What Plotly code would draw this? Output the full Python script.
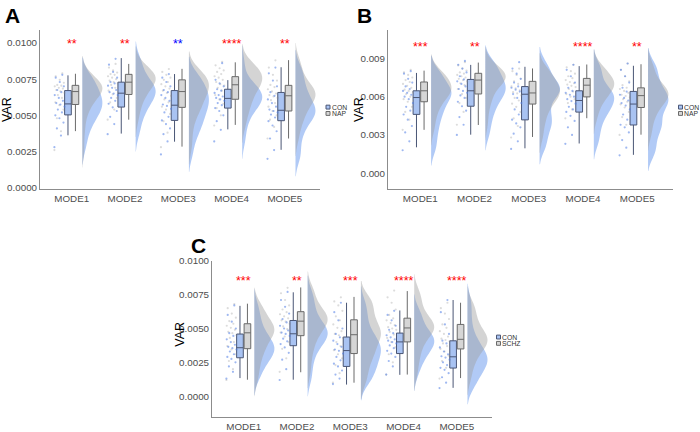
import numpy as np
import plotly.graph_objects as go

MODES = ["MODE1", "MODE2", "MODE3", "MODE4", "MODE5"]
UNIT = 1e-3  # all values below are written in units of 1e-3

# ---------------- Panel A : CON vs NAP ----------------
A_CON = [
    [2.8, 3.6, 4.1, 4.5, 4.8, 5.0, 5.2, 5.4, 5.6, 5.75, 5.85, 6.0, 6.2, 6.4, 6.6, 6.75, 7.0, 7.3, 7.6, 7.8],
    [3.7, 4.4, 4.9, 5.3, 5.55, 5.8, 6.0, 6.2, 6.4, 6.5, 6.6, 6.75, 6.9, 7.05, 7.2, 7.3, 7.6, 8.0, 8.5, 8.9],
    [2.3, 3.2, 3.7, 4.1, 4.4, 4.65, 4.9, 5.2, 5.45, 5.65, 5.75, 6.0, 6.2, 6.4, 6.6, 6.75, 7.0, 7.3, 7.6, 7.85],
    [3.2, 4.0, 4.6, 5.0, 5.3, 5.5, 5.7, 5.85, 6.0, 6.1, 6.2, 6.3, 6.4, 6.55, 6.7, 6.8, 7.0, 7.2, 7.45, 8.6],
    [2.0, 2.6, 3.4, 3.9, 4.3, 4.6, 4.85, 5.05, 5.2, 5.3, 5.4, 5.6, 5.85, 6.1, 6.35, 6.6, 7.0, 7.4, 7.9, 8.3],
]
A_NAP = [
    [2.6, 3.9, 4.8, 5.4, 5.7, 5.9, 6.2, 6.4, 6.55, 6.65, 6.75, 6.85, 6.9, 7.0, 7.05, 7.1, 7.25, 7.45, 7.7, 7.9],
    [4.7, 5.4, 5.9, 6.2, 6.45, 6.7, 6.9, 7.1, 7.2, 7.3, 7.4, 7.5, 7.6, 7.7, 7.8, 7.85, 7.95, 8.1, 8.3, 8.55],
    [2.8, 3.8, 4.6, 5.1, 5.4, 5.6, 5.9, 6.1, 6.35, 6.55, 6.7, 6.85, 7.0, 7.15, 7.3, 7.45, 7.6, 7.8, 8.0, 8.2],
    [4.3, 5.0, 5.5, 5.8, 6.1, 6.4, 6.7, 6.9, 7.05, 7.15, 7.3, 7.45, 7.6, 7.7, 7.85, 8.0, 8.1, 8.25, 8.45, 8.7],
    [3.4, 4.2, 4.7, 5.0, 5.3, 5.6, 5.85, 6.05, 6.2, 6.3, 6.4, 6.5, 6.65, 6.8, 6.95, 7.1, 7.4, 7.8, 8.3, 8.8],
]
# box stats per mode: (lower whisker, q1, median, q3, upper whisker)
A_CON_BOX = [(3.62, 5.03, 5.79, 6.71, 7.76), (3.74, 5.57, 6.53, 7.29, 8.95), (3.18, 4.65, 5.70, 6.71, 7.85),
             (4.03, 5.50, 6.17, 6.80, 7.43), (2.62, 4.63, 5.35, 6.58, 8.32)]
A_NAP_BOX = [(3.91, 5.75, 6.64, 7.07, 7.87), (4.70, 6.44, 7.29, 7.83, 8.55), (2.84, 5.55, 6.64, 7.45, 8.21),
             (4.34, 6.11, 7.11, 7.67, 8.66), (3.40, 5.30, 6.35, 7.07, 8.81)]
A_STARS = ["**", "**", "**", "****", "**"]
A_STAR_COLORS = ["#ff0000", "#ff0000", "#0000ff", "#ff0000", "#ff0000"]

# ---------------- Panel B : CON vs NAP ----------------
B_CON = [
    [1.8, 2.5, 3.2, 3.7, 4.2, 4.6, 4.9, 5.2, 5.5, 5.8, 6.0, 6.15, 6.3, 6.45, 6.6, 6.8, 7.1, 7.4, 7.8, 8.0],
    [3.0, 3.8, 4.4, 4.9, 5.25, 5.6, 5.9, 6.1, 6.3, 6.45, 6.6, 6.8, 7.0, 7.2, 7.35, 7.6, 7.9, 8.2, 8.5, 8.8],
    [1.9, 2.5, 3.1, 3.6, 3.9, 4.2, 4.6, 5.0, 5.5, 5.9, 6.2, 6.4, 6.55, 6.7, 6.8, 7.1, 7.4, 7.8, 8.2, 8.7],
    [2.3, 3.0, 3.6, 4.1, 4.5, 4.8, 5.0, 5.2, 5.45, 5.65, 5.8, 6.0, 6.15, 6.3, 6.45, 6.7, 7.1, 7.6, 8.1, 8.5],
    [1.4, 2.0, 2.6, 3.2, 3.6, 3.8, 4.2, 4.6, 5.0, 5.3, 5.5, 5.7, 5.9, 6.15, 6.4, 6.7, 7.1, 7.6, 8.1, 8.6],
]
B_NAP = [
    [3.4, 4.2, 4.8, 5.2, 5.6, 5.8, 6.0, 6.2, 6.35, 6.45, 6.55, 6.7, 6.85, 7.0, 7.15, 7.3, 7.5, 7.7, 7.9, 8.1],
    [3.8, 4.8, 5.5, 5.9, 6.2, 6.6, 6.9, 7.05, 7.2, 7.3, 7.4, 7.5, 7.6, 7.7, 7.8, 7.9, 8.05, 8.2, 8.45, 8.7],
    [2.8, 3.7, 4.3, 4.8, 5.2, 5.45, 5.7, 5.9, 6.1, 6.25, 6.35, 6.5, 6.65, 6.8, 7.0, 7.2, 7.4, 7.7, 8.0, 8.2],
    [4.3, 5.0, 5.5, 5.8, 6.0, 6.2, 6.4, 6.6, 6.75, 6.85, 6.95, 7.05, 7.15, 7.3, 7.45, 7.6, 7.8, 8.0, 8.3, 8.5],
    [3.0, 3.8, 4.4, 4.8, 5.15, 5.4, 5.6, 5.8, 5.95, 6.05, 6.15, 6.3, 6.45, 6.6, 6.7, 6.9, 7.2, 7.6, 8.1, 8.6],
]
B_CON_BOX = [(2.03, 4.61, 5.93, 6.46, 7.86), (3.02, 5.25, 6.46, 7.35, 8.49), (1.95, 4.18, 6.19, 6.79, 8.34),
             (2.33, 4.79, 5.70, 6.46, 8.39), (1.44, 3.78, 5.42, 6.41, 8.42)]
B_NAP_BOX = [(3.40, 5.60, 6.46, 7.15, 8.04), (3.78, 6.21, 7.30, 7.83, 8.67), (2.84, 5.42, 6.29, 7.20, 8.21),
             (4.31, 5.98, 6.90, 7.43, 8.52), (3.02, 5.15, 6.08, 6.69, 8.54)]
B_STARS = ["***", "**", "", "****", "**"]
B_STAR_COLORS = ["#ff0000"] * 5

# ---------------- Panel C : CON vs SCHZ ----------------
C_CON = [
    [1.3, 1.8, 2.2, 2.5, 2.75, 2.9, 3.1, 3.3, 3.45, 3.55, 3.65, 3.8, 4.0, 4.2, 4.45, 4.65, 5.0, 5.5, 6.0, 6.7],
    [1.2, 2.0, 2.7, 3.2, 3.6, 3.85, 4.05, 4.25, 4.45, 4.6, 4.7, 4.85, 5.0, 5.2, 5.45, 5.7, 6.1, 6.6, 7.1, 7.7],
    [0.9, 1.3, 1.6, 1.9, 2.2, 2.4, 2.65, 2.9, 3.15, 3.35, 3.45, 3.65, 3.85, 4.1, 4.35, 4.6, 5.0, 5.6, 6.2, 6.9],
    [1.6, 2.2, 2.6, 2.9, 3.15, 3.35, 3.55, 3.75, 3.9, 4.0, 4.1, 4.2, 4.35, 4.5, 4.65, 4.9, 5.2, 5.6, 6.0, 6.3],
    [0.6, 1.0, 1.4, 1.7, 1.95, 2.1, 2.3, 2.5, 2.7, 2.85, 2.95, 3.1, 3.3, 3.6, 3.9, 4.1, 4.6, 5.3, 6.2, 7.1],
]
C_SCHZ = [
    [1.2, 2.0, 2.6, 3.1, 3.45, 3.7, 4.0, 4.3, 4.5, 4.65, 4.75, 4.9, 5.05, 5.2, 5.35, 5.55, 5.8, 6.1, 6.5, 6.8],
    [1.8, 2.8, 3.5, 4.0, 4.4, 4.7, 4.95, 5.15, 5.35, 5.5, 5.6, 5.75, 5.9, 6.05, 6.2, 6.4, 6.7, 7.1, 7.6, 8.0],
    [1.0, 1.7, 2.3, 2.8, 3.1, 3.4, 3.7, 4.0, 4.3, 4.5, 4.6, 4.8, 5.05, 5.3, 5.6, 5.9, 6.3, 6.7, 7.0, 7.3],
    [1.6, 2.5, 3.1, 3.6, 4.0, 4.3, 4.55, 4.75, 4.9, 5.0, 5.1, 5.25, 5.4, 5.6, 5.75, 6.0, 6.4, 6.9, 7.3, 7.8],
    [1.3, 2.1, 2.6, 3.0, 3.3, 3.5, 3.7, 3.9, 4.05, 4.15, 4.25, 4.4, 4.6, 4.8, 5.05, 5.3, 5.7, 6.1, 6.5, 6.9],
]
C_CON_BOX = [(1.34, 2.84, 3.58, 4.59, 6.67), (1.22, 3.73, 4.61, 5.59, 7.67), (0.86, 2.20, 3.37, 4.37, 6.90),
              (1.58, 3.15, 4.01, 4.66, 6.33), (0.62, 2.08, 2.91, 4.09, 7.10)]
C_SCHZ_BOX = [(1.22, 3.51, 4.68, 5.35, 6.83), (1.77, 4.47, 5.54, 6.24, 8.03), (1.00, 3.15, 4.54, 5.64, 7.33),
               (1.60, 4.01, 5.04, 5.76, 7.76), (1.34, 3.49, 4.20, 5.30, 6.90)]
C_STARS = ["***", "**", "***", "****", "****"]
C_STAR_COLORS = ["#ff0000"] * 5

# ---------------- styling ----------------
W, H = 700, 432
NARROW = "Liberation Sans Narrow, Liberation Sans, Arial, sans-serif"
SANS = "Liberation Sans, Arial, sans-serif"
BLUE_V = "rgba(100,149,237,0.50)"
GRAY_V = "rgba(160,160,160,0.45)"
BLUE_BOX = "#a9c3f2"
GRAY_BOX = "#d6d6d6"
BLUE_LINE = "#4a5675"
GRAY_LINE = "#6a6a6a"
BLUE_PT = "rgba(80,125,230,0.55)"
GRAY_PT = "rgba(140,140,140,0.30)"
AXIS_COL = "#8c8c8c"
TICK_COL = "#4d4d4d"

V_OFF, BOX_OFF, BOX_W, PT_OFF, PT_SPREAD, V_WIDTH = 0.2, 0.07, 0.125, -0.225, 0.2, 0.75
KDE_BW = 0.0006


def px_x(p):
    return p / W


def px_y(p):
    return 1 - p / H


fig = go.Figure()


def add_panel(k, con, grp, con_box, grp_box):
    xa = "x" if k == 1 else f"x{k}"
    ya = "y" if k == 1 else f"y{k}"
    pos = np.arange(1, len(MODES) + 1)
    sg = f"panel{k}"
    # half violins
    for samples, col in [(con, BLUE_V), (grp, GRAY_V)]:
        for i, s in enumerate(samples):
            vals = np.array(s) * UNIT
            fig.add_trace(go.Violin(
                x=np.full(len(vals), pos[i] + V_OFF), y=vals, side="positive", width=V_WIDTH,
                bandwidth=KDE_BW, scalegroup=sg, scalemode="width", spanmode="soft", points=False,
                fillcolor=col, line=dict(width=0, color="rgba(0,0,0,0)"),
                box_visible=False, meanline_visible=False, showlegend=False, hoverinfo="skip",
                xaxis=xa, yaxis=ya))
    # jittered raw points
    for samples, col in [(grp, GRAY_PT), (con, BLUE_PT)]:
        xs, ys = [], []
        for i, s in enumerate(samples):
            n = len(s)
            jit = ((np.arange(n) * 0.6180339887) % 1.0 - 0.5) * PT_SPREAD
            xs.extend(pos[i] + PT_OFF + jit)
            ys.extend(np.array(s) * UNIT)
        fig.add_trace(go.Scatter(x=xs, y=ys, mode="markers", marker=dict(size=2.2, color=col),
                                 showlegend=False, hoverinfo="skip", xaxis=xa, yaxis=ya))
    # boxes
    for stats, off, fc, lc in [(con_box, -BOX_OFF, BLUE_BOX, BLUE_LINE), (grp_box, BOX_OFF, GRAY_BOX, GRAY_LINE)]:
        st = np.array(stats) * UNIT
        fig.add_trace(go.Box(
            x=pos + off, lowerfence=st[:, 0], q1=st[:, 1], median=st[:, 2], q3=st[:, 3], upperfence=st[:, 4],
            width=BOX_W, whiskerwidth=0, fillcolor=fc, line=dict(color=lc, width=1),
            showlegend=False, hoverinfo="skip", xaxis=xa, yaxis=ya))


add_panel(1, A_CON, A_NAP, A_CON_BOX, A_NAP_BOX)
add_panel(2, B_CON, B_NAP, B_CON_BOX, B_NAP_BOX)
add_panel(3, C_CON, C_SCHZ, C_CON_BOX, C_SCHZ_BOX)

xcommon = dict(range=[0.405, 5.66], tickmode="array", tickvals=list(range(1, 6)), ticktext=MODES,
               showline=True, linecolor=AXIS_COL, linewidth=1, ticks="", showgrid=False, zeroline=False,
               tickfont=dict(family=NARROW, size=9.8, color=TICK_COL), fixedrange=True)
ycommon = dict(showline=True, linecolor=AXIS_COL, linewidth=1, ticks="", showgrid=False, zeroline=False,
               tickfont=dict(family=NARROW, size=9.8, color=TICK_COL), fixedrange=True)

panels = {
    1: dict(x=(40, 320), y=(25, 188), yr=[-0.00007, 0.01087], dtick=0.0025, fmt=".4f"),
    2: dict(x=(388, 673), y=(25, 188), yr=[-0.00122, 0.0112], dtick=0.003, fmt=".3f"),
    3: dict(x=(212, 492), y=(262, 423), yr=[-0.00155, 0.0100], dtick=0.0025, fmt=".4f"),
}
layout_axes = {}
for k, p in panels.items():
    xs = "xaxis" if k == 1 else f"xaxis{k}"
    ys = "yaxis" if k == 1 else f"yaxis{k}"
    xref = "y" if k == 1 else f"y{k}"
    yref = "x" if k == 1 else f"x{k}"
    layout_axes[xs] = dict(xcommon, domain=[px_x(p["x"][0]), px_x(p["x"][1])], anchor=xref)
    layout_axes[ys] = dict(ycommon, domain=[px_y(p["y"][1]), px_y(p["y"][0])], anchor=yref,
                           range=p["yr"], tick0=0, dtick=p["dtick"], tickformat=p["fmt"])

annotations = []
# significance stars
for k, stars, cols, ystar in [(1, A_STARS, A_STAR_COLORS, 0.00995), (2, B_STARS, B_STAR_COLORS, 0.0099),
                              (3, C_STARS, C_STAR_COLORS, 0.00847)]:
    xr = "x" if k == 1 else f"x{k}"
    yr = "y" if k == 1 else f"y{k}"
    for i, (s, c) in enumerate(zip(stars, cols)):
        if s:
            annotations.append(dict(x=i + 1, y=ystar, xref=xr, yref=yr, text=s, showarrow=False,
                                    font=dict(family=SANS, size=12.5, color=c), xanchor="center", yanchor="middle"))

# panel letters
for lab, (cx, cy) in [("A", (12.5, 10)), ("B", (364.5, 9.5)), ("C", (198.5, 246))]:
    annotations.append(dict(x=px_x(cx), y=px_y(cy), xref="paper", yref="paper", text=f"<b>{lab}</b>",
                            showarrow=False, font=dict(family=SANS, size=21, color="black"),
                            xanchor="center", yanchor="middle"))

# y titles
for cx, cy in [(7, 107), (359, 107), (180, 337)]:
    annotations.append(dict(x=px_x(cx), y=px_y(cy), xref="paper", yref="paper", text="VAR", textangle=-90,
                            showarrow=False, font=dict(family=NARROW, size=12.5, color="black"),
                            xanchor="center", yanchor="middle"))

# legends
shapes = []
for kx, ky1, ky2, lab2 in [(328, 104, 110.5, "NAP"), (680.5, 104, 110.5, "NAP"), (498.5, 340.5, 347, "SCHZ")]:
    for ky, fc, lc, lab in [(ky1, BLUE_BOX, BLUE_LINE, "CON"), (ky2, GRAY_BOX, GRAY_LINE, lab2)]:
        shapes.append(dict(type="rect", xref="paper", yref="paper", x0=px_x(kx - 2), x1=px_x(kx + 2),
                           y0=px_y(ky + 2), y1=px_y(ky - 2), fillcolor=fc, line=dict(color=lc, width=1)))
        annotations.append(dict(x=px_x(kx + 2.6), y=px_y(ky), xref="paper", yref="paper", text=lab,
                                showarrow=False, font=dict(family=NARROW, size=6.8, color="#333333"),
                                xanchor="left", yanchor="middle", borderpad=0))

fig.update_layout(
    width=W, height=H, margin=dict(l=0, r=0, t=0, b=0), autosize=False,
    paper_bgcolor="white", plot_bgcolor="white",
    violinmode="overlay", boxmode="overlay", showlegend=False,
    annotations=annotations, shapes=shapes, **layout_axes)

fig.write_html("out.html", config={"displayModeBar": False},
               post_script="document.body.style.margin='0';")
